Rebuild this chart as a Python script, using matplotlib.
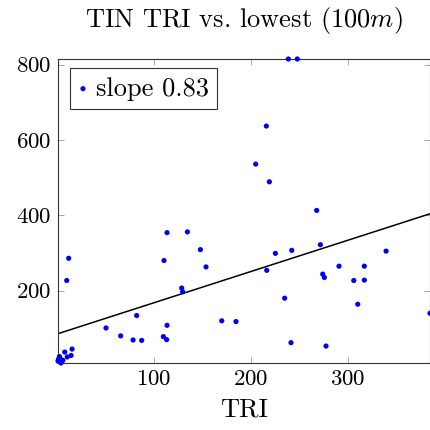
import numpy as np
import matplotlib
matplotlib.use("Agg")
import matplotlib.pyplot as plt

plt.rcParams["font.family"] = "serif"
plt.rcParams["font.serif"] = ["cmr10", "DejaVu Serif"]
plt.rcParams["mathtext.fontset"] = "cm"
plt.rcParams["axes.formatter.use_mathtext"] = True

# ==============================
# Data
# ==============================
tri = [1, 4, 3, 1.5, 10.5, 14.5, 8, 15.5, 6, 2.5,
       12, 10,
       50.5, 65.6, 78.4, 82.1, 87.3,
       109.6, 110.3, 113, 113.4, 113.4,
       128.5, 129.5, 134.4, 147.8, 153.6, 169.8, 184.5,
       204.8, 215.8, 218.9, 216.2, 225.1, 234.7, 238.5, 247.7, 241.2, 242,
       267.7, 271.5, 273.9, 275.6, 277.3, 290.7, 305.9, 310, 316.8, 316.8,
       339.2, 384.5]
lowest = [13, 8, 21, 18, 24, 28, 37, 45, 15, 25,
          286, 227,
          101, 80, 69, 134, 68,
          78, 280, 70, 108, 354,
          207, 197, 356, 309, 263, 120, 118,
          536, 637, 489, 254, 299, 180, 815, 815, 62, 307,
          413, 322, 244, 235, 53, 265, 227, 164, 265, 228,
          305, 140]

slope = 0.83
intercept = 85

# ==============================
# Setup
# ==============================
fig = plt.figure(figsize=(4.31, 4.30), dpi=100)
ax = fig.add_axes([58 / 431, 67 / 430, 372 / 431, 304 / 430])

xmin, xmax = min(tri), max(tri)
ymin, ymax = min(lowest), max(lowest)

ax.scatter(tri, lowest, s=14, color="#0000ee", edgecolors="none",
           zorder=3, clip_on=False, label="slope 0.83")

xs = np.array([xmin, xmax])
ax.plot(xs, intercept + slope * xs, color="black", lw=1.1, zorder=2)

ax.set_xlim(xmin, xmax)
ax.set_ylim(ymin, ymax)
ax.set_xticks([100, 200, 300])
ax.set_yticks([200, 400, 600, 800])

ax.tick_params(direction="in", length=4, width=0.6, color="#999999",
               top=True, right=True, labelsize=16.5, pad=5)
for sp in ax.spines.values():
    sp.set_color("#333333")
    sp.set_linewidth(0.8)

ax.set_xlabel("TRI", fontsize=19, labelpad=6)
ax.set_title("TIN TRI vs. lowest (100$m$)", fontsize=19, pad=23)

leg = ax.legend(loc="upper left", bbox_to_anchor=(0.032, 0.969),
                borderaxespad=0, fontsize=19, frameon=True, fancybox=False,
                handlelength=0.35, handletextpad=0.3, borderpad=0.32,
                scatterpoints=1, markerscale=1.0)
leg.get_frame().set_edgecolor("black")
leg.get_frame().set_linewidth(0.8)

plt.savefig("out.png", dpi=100)
